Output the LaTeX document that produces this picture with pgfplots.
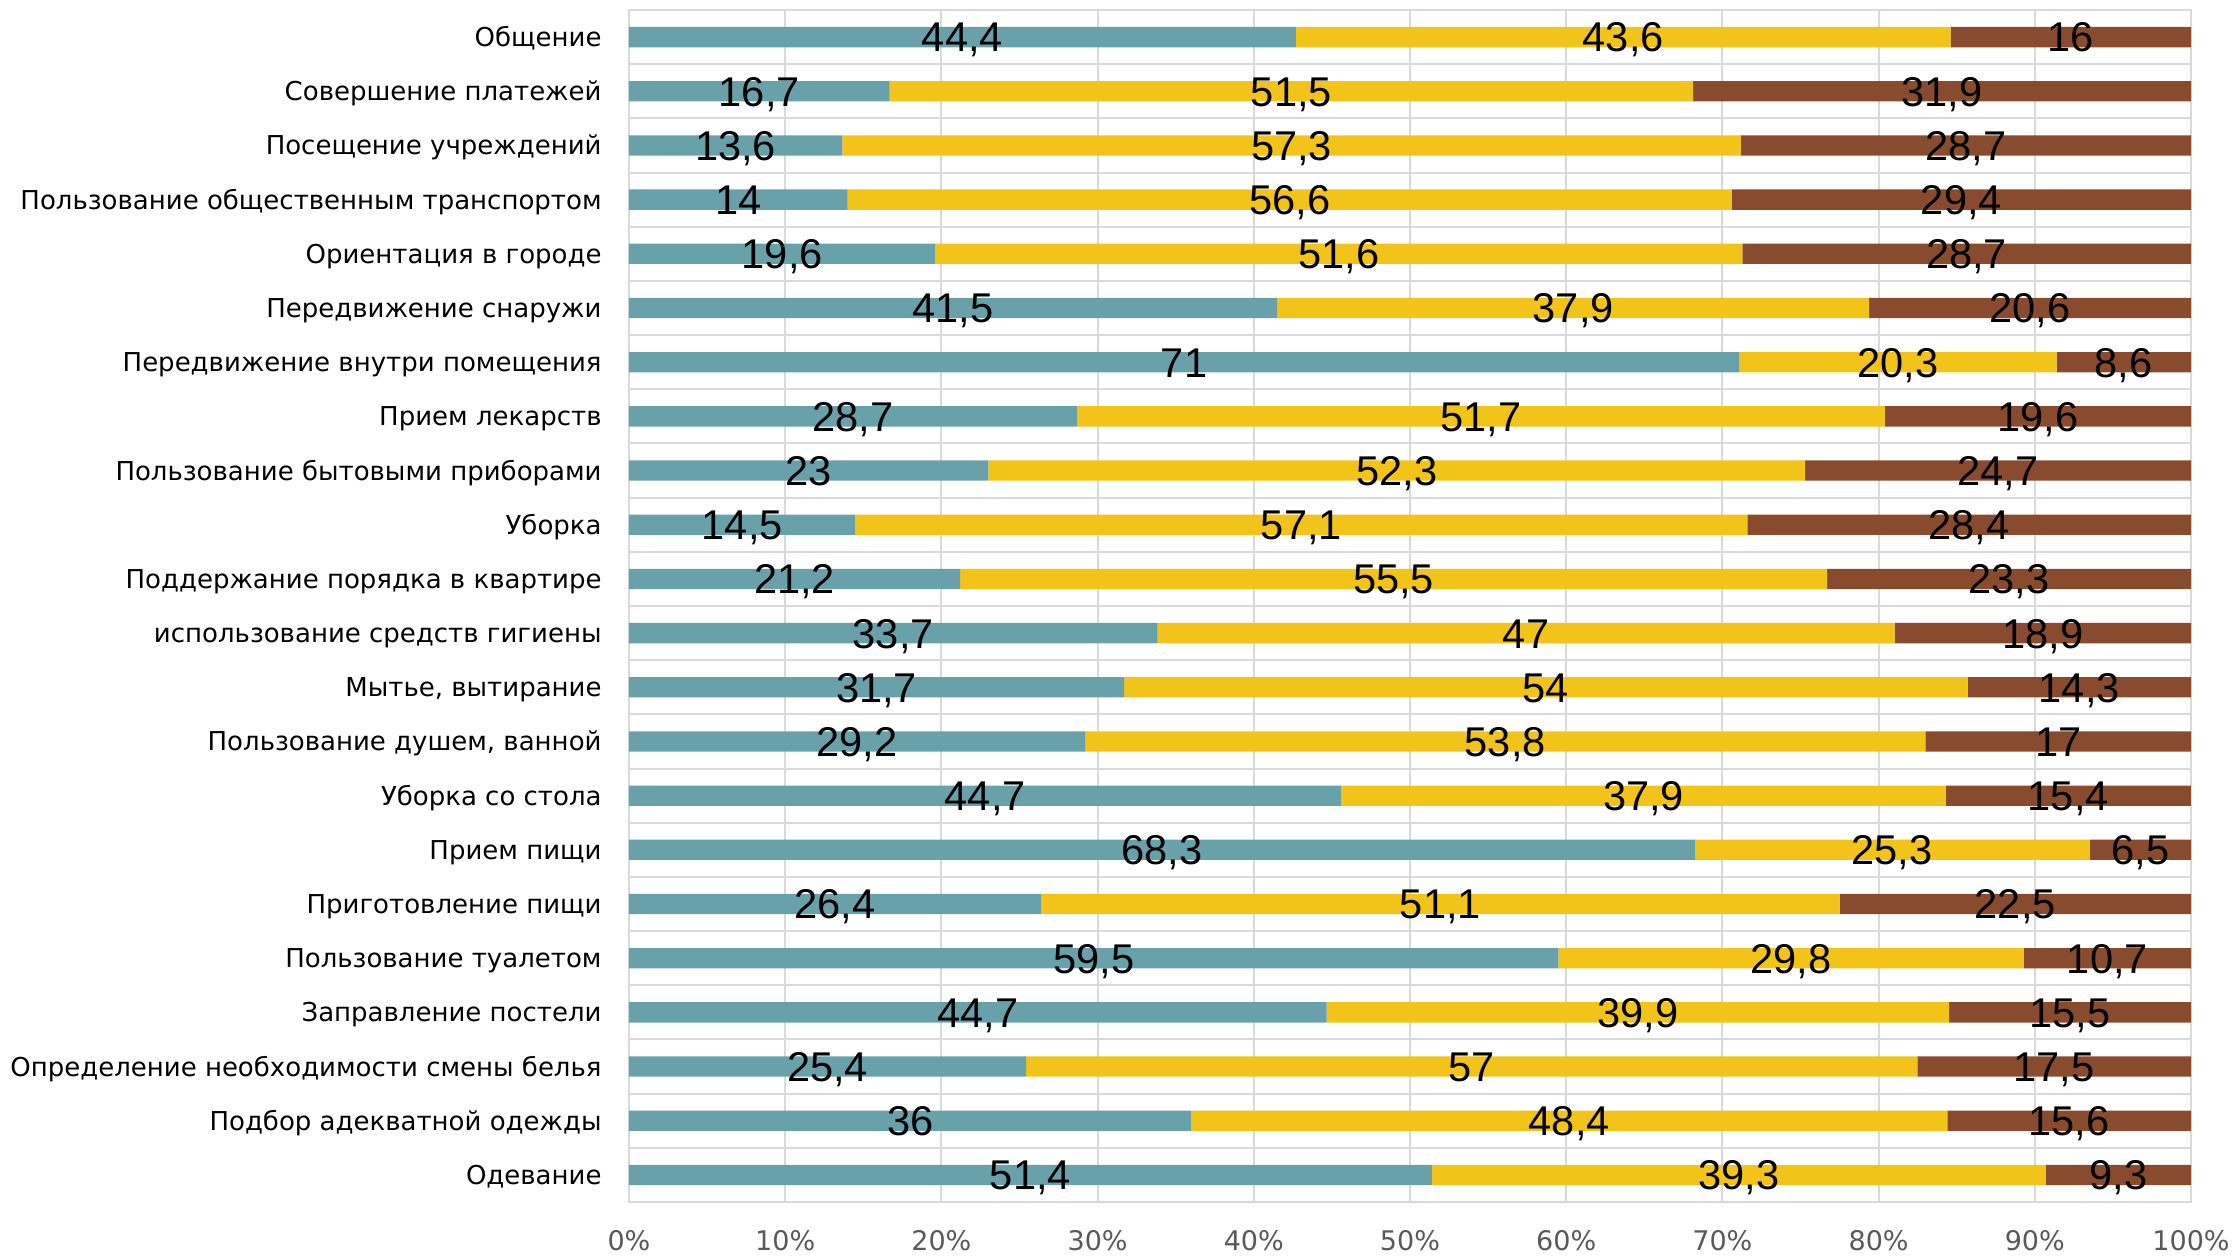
\documentclass[border=0pt]{standalone}
\usepackage{fontspec}
\setmainfont{DejaVu Sans}
\newfontfamily\lab{Liberation Sans}
\usepackage{pgfplots}
\usepackage{pgfplotstable}
\pgfplotsset{compat=1.18}
\definecolor{cA}{HTML}{68A1AA}
\definecolor{cB}{HTML}{F2C41A}
\definecolor{cC}{HTML}{884B2E}
\definecolor{gridc}{HTML}{D9D9D9}
\definecolor{tickc}{HTML}{595959}

\pgfplotstableread{
idx a b c
0 44.4 43.6 16
1 16.7 51.5 31.9
2 13.6 57.3 28.7
3 14 56.6 29.4
4 19.6 51.6 28.7
5 41.5 37.9 20.6
6 71 20.3 8.6
7 28.7 51.7 19.6
8 23 52.3 24.7
9 14.5 57.1 28.4
10 21.2 55.5 23.3
11 33.7 47 18.9
12 31.7 54 14.3
13 29.2 53.8 17
14 44.7 37.9 15.4
15 68.3 25.3 6.5
16 26.4 51.1 22.5
17 59.5 29.8 10.7
18 44.7 39.9 15.5
19 25.4 57 17.5
20 36 48.4 15.6
21 51.4 39.3 9.3
}\data

\begin{document}
\begin{tikzpicture}
\begin{axis}[
  name=main,
  scale only axis, width=781pt, height=596pt,
  xbar stacked, bar width=10.15pt,
  xmin=0, xmax=100, ymin=-0.5, ymax=21.5, y dir=reverse,
  ytick={0,...,21},
  yticklabels={{Общение},{Совершение платежей},{Посещение учреждений},{Пользование общественным транспортом},{Ориентация в городе},{Передвижение снаружи},{Передвижение внутри помещения},{Прием лекарств},{Пользование бытовыми приборами},{Уборка},{Поддержание порядка в квартире},{использование средств гигиены},{Мытье, вытирание},{Пользование душем, ванной},{Уборка со стола},{Прием пищи},{Приготовление пищи},{Пользование туалетом},{Заправление постели},{Определение необходимости смены белья},{Подбор адекватной одежды},{Одевание}},
  minor ytick={-0.5,0.5,...,21.5},
  yminorgrids=true, xmajorgrids=true, ymajorgrids=false,
  xtick={0,10,...,100},
  xticklabel={\pgfmathprintnumber{\tick}\%},
  major tick length=0pt, minor tick length=0pt,
  tick style={draw=none},
  grid style={draw=gridc, line width=1pt},
  minor grid style={draw=gridc, line width=1pt},
  axis line style={draw=gridc, line width=1pt},
  /pgf/number format/assume math mode=true,
  xticklabel style={font=\fontsize{13.5}{16}\selectfont, text=tickc, anchor=center, yshift=-19.5pt, inner sep=0pt},
  yticklabel style={font=\fontsize{13.0}{16}\selectfont, text=black, anchor=base east, inner sep=0pt, xshift=-13.5pt, yshift=-4.75pt},
]
\addplot[fill=cA, draw=none] table[x expr={100*\thisrow{a}/(\thisrow{a}+\thisrow{b}+\thisrow{c})}, y=idx]{\data};
\addplot[fill=cB, draw=none] table[x expr={100*\thisrow{b}/(\thisrow{a}+\thisrow{b}+\thisrow{c})}, y=idx]{\data};
\addplot[fill=cC, draw=none] table[x expr={100*\thisrow{c}/(\thisrow{a}+\thisrow{b}+\thisrow{c})}, y=idx]{\data};
\end{axis}
\begin{axis}[
  scale only axis, width=781pt, height=596pt,
  xmin=0, xmax=100, ymin=-0.5, ymax=21.5, y dir=reverse,
  hide axis, clip=false,
  nodes near coords, point meta=explicit,
  every node near coord/.append style={anchor=base, yshift=-7.45pt, font=\lab\fontsize{20.8}{24}\selectfont, text=black, inner sep=0pt},
  /pgf/number format/.cd, use comma, assume math mode=true,
]
\addplot[draw=none, mark=none] table[x expr={100*0.5*\thisrow{a}/(\thisrow{a}+\thisrow{b}+\thisrow{c})}, y=idx, meta=a]{\data};
\addplot[draw=none, mark=none] table[x expr={100*(\thisrow{a}+0.5*\thisrow{b})/(\thisrow{a}+\thisrow{b}+\thisrow{c})}, y=idx, meta=b]{\data};
\addplot[draw=none, mark=none] table[x expr={100*(\thisrow{a}+\thisrow{b}+0.5*\thisrow{c})/(\thisrow{a}+\thisrow{b}+\thisrow{c})}, y=idx, meta=c]{\data};
\end{axis}
\pgfresetboundingbox
\path ([xshift=-314.5pt, yshift=-26.5pt]main.south west) rectangle ([xshift=23.5pt, yshift=5pt]main.north east);
\end{tikzpicture}
\end{document}
